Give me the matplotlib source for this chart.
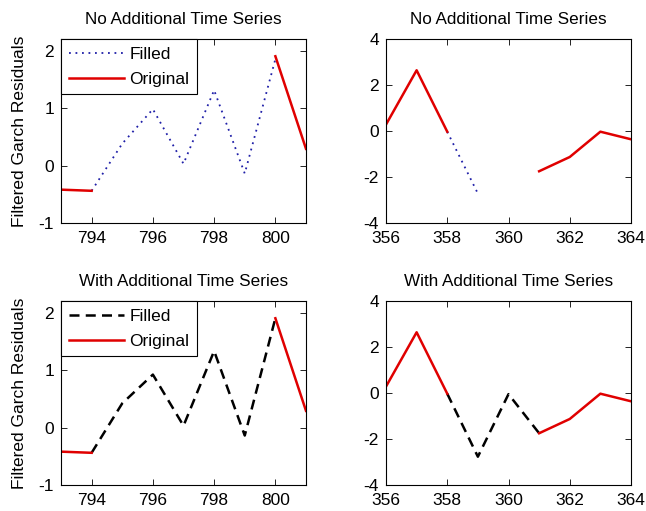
"""Filled vs original GARCH residuals, with and without an additional series."""

import numpy as np
import matplotlib
matplotlib.use("Agg")
import matplotlib.pyplot as plt

plt.rcParams["font.family"] = ["Liberation Sans", "DejaVu Sans"]
plt.rcParams["axes.unicode_minus"] = False

# left panels: observations 793..801
x_left = [793, 794, 795, 796, 797, 798, 799, 800, 801]
orig_left = [-0.42, -0.44, np.nan, np.nan, np.nan, np.nan, np.nan, 1.90, 0.29]
filled_left_no = [np.nan, -0.44, 0.38, 0.98, 0.03, 1.31, -0.14, 1.85, np.nan]
filled_left_with = [np.nan, -0.44, 0.42, 0.92, 0.03, 1.33, -0.14, 1.90, np.nan]

# right panels: observations 356..364
x_right = [356, 357, 358, 359, 360, 361, 362, 363, 364]
orig_right = [0.28, 2.64, -0.03, np.nan, np.nan, -1.75, -1.13, -0.03, -0.36]
filled_right_no = [np.nan, np.nan, -0.03, -2.72, np.nan, np.nan, np.nan, np.nan, np.nan]
filled_right_with = [np.nan, np.nan, -0.03, -2.77, -0.05, -1.75, np.nan, np.nan, np.nan]

TITLES = ["No Additional Time Series", "With Additional Time Series"]
RED = "#e00000"


def style(ax, xlim, ylim, xticks, yticks):
    ax.set_xlim(*xlim)
    ax.set_ylim(*ylim)
    ax.set_xticks(xticks)
    ax.set_yticks(yticks)
    ax.tick_params(direction="in", top=True, right=True, length=4, width=0.6,
                   labelsize=12.5)
    ax.tick_params(axis="x", pad=6)
    ax.tick_params(axis="y", pad=5)
    for s in ax.spines.values():
        s.set_linewidth(0.8)


fig = plt.figure(figsize=(6.46, 5.11), dpi=100)
W, H = 646, 511
boxes = {
    (0, 0): (61, 39), (0, 1): (386, 39),
    (1, 0): (61, 301), (1, 1): (386, 301),
}
aw, ah = 245, 184

for row in range(2):
    filled_l = filled_left_no if row == 0 else filled_left_with
    filled_r = filled_right_no if row == 0 else filled_right_with
    if row == 0:
        fkw = dict(color="#1f1fa8", linestyle=(0, (1, 2.6)), linewidth=1.3)
    else:
        fkw = dict(color="black", linestyle=(0, (4, 2.5)), linewidth=1.8)

    # left
    px, py = boxes[(row, 0)]
    ax = fig.add_axes([px / W, 1 - (py + ah) / H, aw / W, ah / H])
    ax.plot(x_left, filled_l, label="Filled", **fkw)
    ax.plot(x_left, orig_left, color=RED, linewidth=1.8, label="Original")
    style(ax, (793, 801), (-1, 2.2), [794, 796, 798, 800], [-1, 0, 1, 2])
    ax.set_title(TITLES[row], fontsize=12.3, pad=11)
    ax.set_ylabel("Filtered Garch Residuals", fontsize=12.5, labelpad=8)
    leg = ax.legend(loc="upper left", borderaxespad=0, fancybox=False,
                    framealpha=1, edgecolor="black", fontsize=12.5,
                    handlelength=3.2, handletextpad=0.3, borderpad=0.45,
                    labelspacing=0.55)
    leg.get_frame().set_linewidth(0.8)

    # right
    px, py = boxes[(row, 1)]
    ax = fig.add_axes([px / W, 1 - (py + ah) / H, aw / W, ah / H])
    ax.plot(x_right, filled_r, **fkw)
    ax.plot(x_right, orig_right, color=RED, linewidth=1.8)
    style(ax, (356, 364), (-4, 4), [356, 358, 360, 362, 364], [-4, -2, 0, 2, 4])
    ax.set_title(TITLES[row], fontsize=12.3, pad=11)

fig.savefig("out.png", dpi=100)
